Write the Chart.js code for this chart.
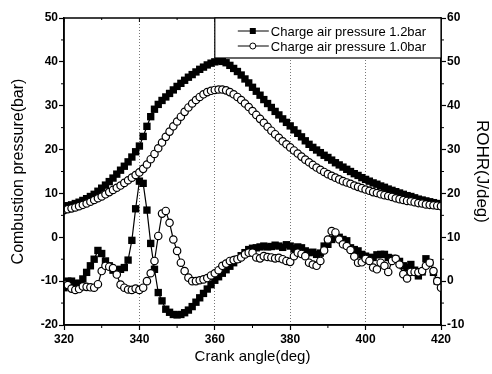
<!DOCTYPE html>
<html>
<head>
<meta charset="utf-8">
<script src="https://cdn.jsdelivr.net/npm/chart.js@4.4.0/dist/chart.umd.min.js"></script>
<style>
  html, body { margin: 0; padding: 0; background: #fff; }
  #wrap { width: 492px; height: 374px; }
</style>
</head>
<body>
<div id="wrap"><canvas id="chart"></canvas></div>
<script>
// crank angle (deg), one point per degree
const crankAngle = [
  320, 321, 322, 323, 324, 325, 326, 327, 328, 329,
  330, 331, 332, 333, 334, 335, 336, 337, 338, 339,
  340, 341, 342, 343, 344, 345, 346, 347, 348, 349,
  350, 351, 352, 353, 354, 355, 356, 357, 358, 359,
  360, 361, 362, 363, 364, 365, 366, 367, 368, 369,
  370, 371, 372, 373, 374, 375, 376, 377, 378, 379,
  380, 381, 382, 383, 384, 385, 386, 387, 388, 389,
  390, 391, 392, 393, 394, 395, 396, 397, 398, 399,
  400, 401, 402, 403, 404, 405, 406, 407, 408, 409,
  410, 411, 412, 413, 414, 415, 416, 417, 418, 419,
  420
];

// combustion pressure (bar), left axis
const pressure12 = [
  7.0, 7.2, 7.4, 7.7, 8.0, 8.4, 8.8, 9.3, 9.8, 10.5,
  11.2, 11.9, 12.7, 13.5, 14.4, 15.3, 16.2, 17.2, 18.3, 19.5,
  20.8, 23.0, 25.3, 27.5, 29.2, 30.3, 31.2, 32.0, 32.8, 33.6,
  34.4, 35.1, 35.8, 36.5, 37.1, 37.7, 38.3, 38.8, 39.3, 39.7,
  40.0, 40.2, 40.1, 39.8, 39.2, 38.5, 37.8, 37.0, 36.1, 35.2,
  34.2, 33.3, 32.4, 31.4, 30.5, 29.6, 28.7, 27.9, 27.0, 26.2,
  25.4, 24.5, 23.7, 22.9, 22.0, 21.2, 20.5, 19.9, 19.3, 18.7,
  18.2, 17.6, 17.0, 16.5, 16.0, 15.5, 15.0, 14.5, 14.1, 13.6,
  13.2, 12.8, 12.4, 12.1, 11.7, 11.4, 11.0, 10.7, 10.4, 10.1,
  9.8, 9.5, 9.3, 9.0, 8.7, 8.5, 8.3, 8.1, 7.9, 7.7,
  7.5
];
const pressure10 = [
  6.2, 6.4, 6.6, 6.8, 7.1, 7.4, 7.7, 8.1, 8.5, 8.9,
  9.3, 9.8, 10.3, 10.8, 11.3, 11.8, 12.4, 13.0, 13.6, 14.2,
  14.8, 15.6, 16.6, 17.8, 19.0, 20.3, 21.6, 22.9, 24.1, 25.3,
  26.4, 27.5, 28.6, 29.6, 30.5, 31.3, 32.0, 32.6, 33.1, 33.4,
  33.6, 33.7, 33.7, 33.5, 33.1, 32.6, 32.0, 31.3, 30.5, 29.7,
  28.8, 27.9, 27.0, 26.1, 25.2, 24.3, 23.5, 22.7, 21.9, 21.2,
  20.5, 19.8, 19.1, 18.4, 17.7, 17.1, 16.5, 15.9, 15.4, 14.9,
  14.4, 14.0, 13.6, 13.2, 12.8, 12.5, 12.2, 11.8, 11.5, 11.2,
  10.9, 10.6, 10.3, 10.1, 9.8, 9.6, 9.4, 9.2, 8.9, 8.7,
  8.5, 8.3, 8.2, 8.0, 7.8, 7.7, 7.5, 7.4, 7.3, 7.2,
  7.1
];

// rate of heat release (J/deg), right axis
const rohr12 = [
  -1.5, 0.0, 0.0, -0.5, -0.5, 0.5, 2.0, 3.5, 5.0, 7.0,
  6.3, 4.6, 3.5, 2.5, 2.3, 2.7, 3.1, 4.8, 9.3, 16.5,
  22.8, 22.3, 16.2, 8.6, 2.7, -2.6, -4.5, -6.4, -7.1, -7.6,
  -7.7, -7.6, -7.2, -6.6, -5.8, -4.8, -3.8, -2.8, -1.8, -0.8,
  0.2, 1.0, 1.8, 2.6, 3.4, 4.2, 5.0, 5.8, 6.5, 7.2,
  7.5, 7.6, 7.8, 8.0, 7.8, 7.9, 8.2, 8.0, 7.7, 8.3,
  8.0, 7.4, 7.8, 7.6, 6.9, 6.5, 6.6, 6.1, 6.4, 8.0,
  8.4, 9.5, 10.0, 10.0, 9.5, 9.2, 7.6, 7.2, 6.9, 6.1,
  5.7, 5.4, 5.4, 6.0, 6.1, 6.1, 5.4, 5.2, 5.0, 4.5,
  3.5, 3.1, 3.8, 2.5, 1.2, 2.1, 5.1, 4.2, 2.0, 0.0,
  -1.0
];
const rohr10 = [
  -0.7, -0.9, -1.7, -2.0, -1.8, -1.2, -1.3, -1.4, -1.5, -0.7,
  2.3, 3.5, 3.3, 3.0, 1.5, -0.8, -1.5, -1.9, -2.0, -1.7,
  -2.0, -1.5, 0.0, 1.8, 4.6, 10.3, 15.4, 16.0, 13.3, 9.5,
  6.9, 4.2, 2.3, 0.8, 0.0, 0.0, 0.2, 0.4, 0.7, 1.3,
  1.8, 2.5, 3.5, 4.0, 4.6, 4.8, 5.0, 5.4, 6.1, 6.5,
  6.5, 5.4, 5.2, 5.7, 5.5, 5.4, 5.2, 5.3, 5.0, 4.6,
  4.4, 5.7, 6.5, 6.2, 5.7, 4.2, 3.8, 3.5, 4.6, 7.0,
  9.5, 11.4, 11.1, 9.5, 8.4, 8.0, 7.1, 5.6, 4.2, 4.3,
  5.1, 4.6, 3.1, 2.7, 4.2, 3.5, 2.1, 4.6, 5.1, 3.8,
  1.6, 0.6, 2.1, 2.1, 2.0, 2.3, 3.5, 4.2, 2.3, 0.0,
  -1.5
];

const legendLabels = ['Charge air pressure 1.2bar', 'Charge air pressure 1.0bar'];

const pts = (ys) => crankAngle.map((x, i) => ({ x: x, y: ys[i] }));

const squareSet = (data, axis) => ({
  data: pts(data), yAxisID: axis, order: 1,
  borderColor: '#000', borderWidth: 1.2, tension: 0,
  pointStyle: 'rect', pointRadius: 5.2,
  pointBackgroundColor: '#000', pointBorderColor: '#000', pointBorderWidth: 0
});
const circleSet = (data, axis) => ({
  data: pts(data), yAxisID: axis, order: 0,
  borderColor: '#000', borderWidth: 1.2, tension: 0,
  pointStyle: 'circle', pointRadius: 3.7,
  pointBackgroundColor: '#fff', pointBorderColor: '#000', pointBorderWidth: 1.2
});

const tickFont = { family: 'Liberation Sans', size: 12, weight: 'bold' };

// frame, minor ticks and the boxed legend
const extras = {
  id: 'extras',
  afterDraw(chart) {
    const { ctx, chartArea: a, scales } = chart;
    const xs = scales.x, yl = scales.y, yr = scales.y2;
    ctx.save();
    ctx.strokeStyle = '#000';
    ctx.lineWidth = 1.5;
    ctx.strokeRect(a.left, a.top, a.right - a.left, a.bottom - a.top);

    ctx.lineWidth = 1;
    ctx.beginPath();
    for (let v = 330; v < 420; v += 20) {
      const px = xs.getPixelForValue(v);
      ctx.moveTo(px, a.bottom); ctx.lineTo(px, a.bottom + 3);
    }
    for (let v = 320; v <= 420; v += 10) {
      const px = xs.getPixelForValue(v);
      ctx.moveTo(px, a.top); ctx.lineTo(px, a.top + (v % 20 === 0 ? 4 : 2));
    }
    for (let v = -15; v < 50; v += 10) {
      const py = yl.getPixelForValue(v);
      ctx.moveTo(a.left, py); ctx.lineTo(a.left - 3, py);
    }
    for (let v = -5; v < 60; v += 10) {
      const py = yr.getPixelForValue(v);
      ctx.moveTo(a.right, py); ctx.lineTo(a.right + 3, py);
    }
    ctx.stroke();

    // legend box
    const bx = xs.getPixelForValue(360);
    const by = a.top, bh = 40;
    ctx.fillStyle = '#fff';
    ctx.fillRect(bx, by, a.right - bx, bh);
    ctx.lineWidth = 1.2;
    ctx.strokeRect(bx, by, a.right - bx, bh);

    ctx.font = '13px "Liberation Sans"';
    ctx.textBaseline = 'middle';
    legendLabels.forEach((lab, i) => {
      const ly = by + 13 + i * 15;
      ctx.strokeStyle = '#000';
      ctx.lineWidth = 1;
      ctx.beginPath();
      ctx.moveTo(bx + 23, ly); ctx.lineTo(bx + 54, ly);
      ctx.stroke();
      const mx = bx + 38;
      if (i === 0) {
        ctx.fillStyle = '#000';
        ctx.fillRect(mx - 3, ly - 3, 6, 6);
      } else {
        ctx.beginPath();
        ctx.arc(mx, ly, 3, 0, Math.PI * 2);
        ctx.fillStyle = '#fff';
        ctx.fill();
        ctx.stroke();
      }
      ctx.fillStyle = '#000';
      ctx.fillText(lab, bx + 56, ly + 1);
    });
    ctx.restore();
  }
};

new Chart(document.getElementById('chart'), {
  type: 'line',
  data: {
    datasets: [
      squareSet(pressure12, 'y'),
      circleSet(pressure10, 'y'),
      squareSet(rohr12, 'y2'),
      circleSet(rohr10, 'y2')
    ]
  },
  options: {
    responsive: true,
    maintainAspectRatio: false,
    animation: false,
    devicePixelRatio: 1,
    layout: { padding: { top: 18, left: 0, right: 0, bottom: 0 } },
    plugins: { legend: { display: false }, tooltip: { enabled: false } },
    scales: {
      x: {
        type: 'linear', position: 'bottom', min: 320, max: 420,
        afterFit: (s) => { s.height = 49; },
        ticks: { stepSize: 20, color: '#000', font: tickFont, padding: 2 },
        grid: {
          color: (c) => (c.tick && (c.tick.value === 320 || c.tick.value === 420)) ? 'rgba(0,0,0,0)' : '#777',
          lineWidth: 1, tickColor: '#000', tickLength: 5, tickWidth: 1.2
        },
        border: { color: '#000', width: 1.5, dash: [1, 2] },
        title: {
          display: true, text: 'Crank angle(deg)', color: '#000',
          font: { family: 'Liberation Sans', size: 15 }, padding: { top: 0, bottom: 8 }
        }
      },
      y: {
        position: 'left', min: -20, max: 50,
        afterFit: (s) => { s.width = 64; },
        ticks: { stepSize: 10, color: '#000', font: tickFont, padding: 1 },
        grid: { drawOnChartArea: false, tickColor: '#000', tickLength: 5, tickWidth: 1.2 },
        border: { color: '#000', width: 1.5 },
        title: {
          display: true, text: 'Combustion pressure(bar)', color: '#000',
          font: { family: 'Liberation Sans', size: 16 }, padding: { top: 9, bottom: 0 }
        }
      },
      y2: {
        position: 'right', min: -10, max: 60,
        afterFit: (s) => { s.width = 51; },
        ticks: { stepSize: 10, color: '#000', font: tickFont, padding: 1 },
        grid: { drawOnChartArea: false, tickColor: '#000', tickLength: 5, tickWidth: 1.2 },
        border: { color: '#000', width: 1.5 },
        title: {
          display: true, text: 'ROHR(J/deg)', color: '#000',
          font: { family: 'Liberation Sans', size: 17 }, padding: { top: 0, bottom: 0 }
        }
      }
    }
  },
  plugins: [extras]
});
</script>
</body>
</html>
